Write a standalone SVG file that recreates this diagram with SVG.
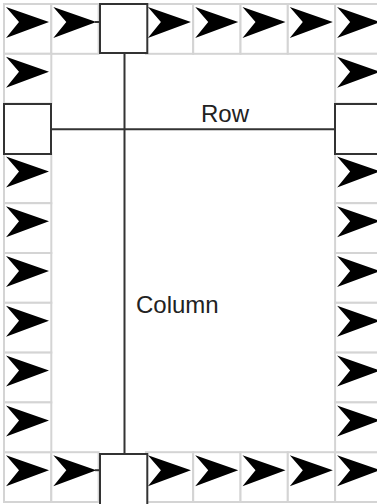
<svg xmlns="http://www.w3.org/2000/svg" xmlns:xlink="http://www.w3.org/1999/xlink" width="377" height="504" viewBox="0 0 377 504">
<style>
.cell{fill:#ffffff;stroke:#d4d4d4;stroke-width:2}
.box{fill:#ffffff;stroke:#333333;stroke-width:2}
.conn{stroke:#333333;stroke-width:2;fill:none}
.lbl{font-family:"Liberation Sans",Arial,sans-serif;font-size:24px;fill:#222222}
</style>
<defs>
<path id="arr" d="M2,3 L45,18 L2,34 L15,18 Z" fill="#000000"/>
<g id="ac"><rect class="cell" x="0" y="0" width="47.3" height="49.8"/><use xlink:href="#arr"/></g>
</defs>
<rect width="377" height="504" fill="#ffffff"/>
<g id="border-cells">
<use xlink:href="#ac" x="4" y="4"/>
<use xlink:href="#ac" x="51.3" y="4"/>
<use xlink:href="#ac" x="145.9" y="4"/>
<use xlink:href="#ac" x="193.2" y="4"/>
<use xlink:href="#ac" x="240.5" y="4"/>
<use xlink:href="#ac" x="287.8" y="4"/>
<use xlink:href="#ac" x="335.1" y="4"/>
<use xlink:href="#ac" x="4" y="452.2"/>
<use xlink:href="#ac" x="51.3" y="452.2"/>
<use xlink:href="#ac" x="145.9" y="452.2"/>
<use xlink:href="#ac" x="193.2" y="452.2"/>
<use xlink:href="#ac" x="240.5" y="452.2"/>
<use xlink:href="#ac" x="287.8" y="452.2"/>
<use xlink:href="#ac" x="335.1" y="452.2"/>
<use xlink:href="#ac" x="4" y="53.8"/>
<use xlink:href="#ac" x="4" y="153.4"/>
<use xlink:href="#ac" x="4" y="203.2"/>
<use xlink:href="#ac" x="4" y="253"/>
<use xlink:href="#ac" x="4" y="302.8"/>
<use xlink:href="#ac" x="4" y="352.6"/>
<use xlink:href="#ac" x="4" y="402.4"/>
<use xlink:href="#ac" x="335.1" y="53.8"/>
<use xlink:href="#ac" x="335.1" y="153.4"/>
<use xlink:href="#ac" x="335.1" y="203.2"/>
<use xlink:href="#ac" x="335.1" y="253"/>
<use xlink:href="#ac" x="335.1" y="302.8"/>
<use xlink:href="#ac" x="335.1" y="352.6"/>
<use xlink:href="#ac" x="335.1" y="402.4"/>
</g>
<g id="connectors">
<line class="conn" x1="51" y1="129.3" x2="335" y2="129.3"/>
<line class="conn" x1="124.5" y1="53" x2="124.5" y2="454"/>
<line class="conn" x1="95" y1="22" x2="100" y2="22"/>
<line class="conn" x1="95" y1="470.2" x2="100" y2="470.2"/>
<text class="lbl" x="201" y="122">Row</text>
<text class="lbl" x="136" y="313">Column</text>
</g>
<g id="top-box"><rect class="box" x="100" y="4" width="47.3" height="49"/></g>
<g id="bottom-box"><rect class="box" x="100" y="454" width="47.3" height="52"/></g>
<g id="left-box"><rect class="box" x="4" y="104" width="47" height="50"/></g>
<g id="right-box"><rect class="box" x="335" y="104" width="47" height="50"/></g>
</svg>
